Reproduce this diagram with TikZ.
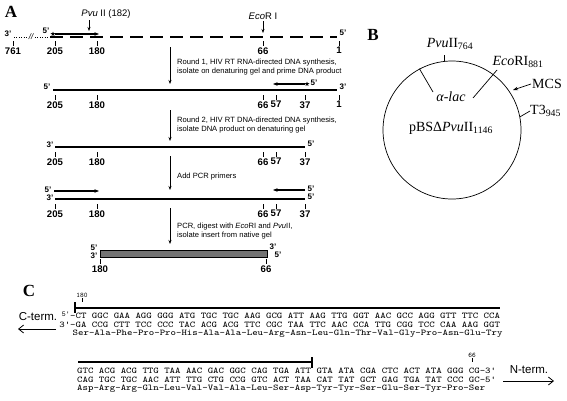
\documentclass[tikz,border=0pt]{standalone}
\usepackage{fontspec}
\setmainfont{Liberation Serif}
\setsansfont{Liberation Sans}
\usetikzlibrary{arrows.meta,shapes.geometric}
\begin{document}
\begin{tikzpicture}[x=1pt,y=-1pt,
  lab/.style={font=\sffamily\bfseries\fontsize{9.6}{10}\selectfont, inner sep=0pt},
  enz/.style={font=\sffamily\fontsize{9.5}{10}\selectfont, inner sep=0pt},
  prime/.style={font=\sffamily\bfseries\fontsize{8}{9}\selectfont, inner sep=0pt},
  steptxt/.style={font=\sffamily\fontsize{7.6}{8.2}\selectfont, align=left, anchor=west, inner sep=0pt},
  strand/.style={line width=1.6pt},
  tickm/.style={line width=0.7pt},
  dotline/.style={line width=1pt, dash pattern=on 1pt off 1.4pt},
  flow/.style={line width=0.7pt, -{Stealth[length=4pt,width=3pt]}},
  primer/.style={line width=1.3pt, -{Stealth[length=4.5pt,width=3.5pt]}},
  starm/.style={star, star points=5, star point ratio=2.4, fill, inner sep=0pt, minimum size=5pt},
  seq/.style={font=\ttfamily\fontsize{8.8}{9}\selectfont, anchor=west, inner sep=0pt, transform shape, xscale=1.1775},
  smallmono/.style={font=\ttfamily\fontsize{7}{7}\selectfont, inner sep=0pt},
  panel/.style={font=\bfseries\fontsize{17}{17}\selectfont, inner sep=0pt},
  bfont/.style={font=\fontsize{14}{15}\selectfont, inner sep=0pt},
  term/.style={font=\sffamily\fontsize{11.5}{12}\selectfont, inner sep=0pt},
  termarrow/.style={line width=0.8pt, -{Straight Barb[length=5pt,width=8pt]}},
  bracket/.style={line width=1.5pt}
]
\fill[white] (0,0) rectangle (567,400);
\useasboundingbox (0,0) rectangle (567,400);

% ================= Panel A =================
\node[panel] (pA) at (11,12) {A};

% ---- row 1
\node[prime] (r1l) at (8,34) {3'};
\coordinate (d1a) at (14,37); \coordinate (d1b) at (27,37);
\coordinate (d2a) at (35,37); \coordinate (d2b) at (49,37);
\draw[dotline] (d1a) -- (d1b);
\node[prime, font=\sffamily\fontsize{8}{9}\selectfont\itshape] (brk) at (31,37) {//};
\draw[dotline] (d2a) -- (d2b);
\coordinate (r1a) at (50,37); \coordinate (r1b) at (337,37);
\draw[strand, dash pattern=on 13pt off 7pt] (r1a) -- (r1b);
\node[prime] (r1r) at (343,33) {5'};
\node[prime] (p1l) at (46,31) {5'};
\node[starm] (p1s) at (53,34) {};
\coordinate (p1e) at (99,34);
\draw[primer] (p1s) -- (p1e);
\node[enz] (pvu) at (106,14) {\textit{Pvu} II (182)};
\coordinate (pvut) at (89,31);
\draw[flow] (pvut |- pvu.south) ++(0,1.5) coordinate (pvus) (pvus) -- (pvut);
\node[enz] (eco) at (263,16) {\textit{Eco}R I};
\coordinate (ecot) at (263,33);
\draw[flow] (ecot |- eco.south) ++(0,1.5) coordinate (ecos) (ecos) -- (ecot);
\foreach \x/\t in {13/761, 55/205, 97/180, 263/66, 339/1}
  \draw[tickm] (\x,41) coordinate (a1\t) -- ++(0,5) node[lab, below=1pt] (b1\t) {\t};

% flow 1
\coordinate (f1a) at (170,47); \coordinate (f1b) at (170,84);
\draw[flow] (f1a) -- (f1b);
\node[steptxt] (s1) at (177,67) {Round 1, HIV RT RNA-directed DNA synthesis,\\isolate on denaturing gel and prime DNA product};

% ---- row 2
\node[prime] (r2l) at (47,87) {5'};
\coordinate (r2a) at (53,90); \coordinate (r2b) at (337,90);
\draw[strand] (r2a) -- (r2b);
\node[prime] (r2r) at (343,87) {3'};
\node[starm] (p2s) at (307,84) {};
\coordinate (p2e) at (273,84);
\draw[primer] (p2s) -- (p2e);
\node[prime] (p2l) at (314,83) {5'};
\foreach \x/\t in {55/205, 97/180, 263/66, 276/57, 305/37, 339/1}
  \draw[tickm] (\x,95) coordinate (a2\t) -- ++(0,5) node[lab, below=1pt] (b2\t) {\t};

% flow 2
\coordinate (f2a) at (170,110); \coordinate (f2b) at (170,141);
\draw[flow] (f2a) -- (f2b);
\node[steptxt] (s2) at (177,125) {Round 2, HIV RT DNA-directed DNA synthesis,\\isolate DNA product on denaturing gel};

% ---- row 3
\node[prime] (r3l) at (50,145) {3'};
\coordinate (r3a) at (55,147); \coordinate (r3b) at (305,147);
\draw[strand] (r3a) -- (r3b);
\node[prime] (r3r) at (311,144) {5'};
\foreach \x/\t in {55/205, 97/180, 263/66, 276/57, 305/37}
  \draw[tickm] (\x,152) coordinate (a3\t) -- ++(0,5) node[lab, below=1pt] (b3\t) {\t};

% flow 3
\coordinate (f3a) at (170,156); \coordinate (f3b) at (170,190);
\draw[flow] (f3a) -- (f3b);
\node[steptxt] (s3) at (177,177) {Add PCR primers};

% ---- row 4
\node[prime] (p4l) at (48,190) {5'};
\coordinate (p4a) at (54,191); \coordinate (p4b) at (99,191);
\draw[primer] (p4a) -- (p4b);
\node[prime] (r4l) at (50,198) {3'};
\coordinate (r4a) at (55,199); \coordinate (r4b) at (305,199);
\draw[strand] (r4a) -- (r4b);
\coordinate (p4c) at (305,190); \coordinate (p4d) at (273,190);
\draw[primer] (p4c) -- (p4d);
\node[prime] (p4r) at (311,189) {5'};
\node[prime] (r4r) at (311,197) {5'};
\foreach \x/\t in {55/205, 97/180, 263/66, 276/57, 305/37}
  \draw[tickm] (\x,204) coordinate (a4\t) -- ++(0,5) node[lab, below=1pt] (b4\t) {\t};

% flow 4
\coordinate (f4a) at (170,208); \coordinate (f4b) at (170,244);
\draw[flow] (f4a) -- (f4b);
\node[steptxt] (s4) at (177,231) {PCR, digest with \textit{Eco}RI and \textit{Pvu}II,\\isolate insert from native gel};

% ---- row 5 (insert)
\draw[fill=black!55, line width=0.8pt] (100,250) rectangle (267,257);
\node[prime] (i5a) at (94,248) {5'};
\node[prime] (i3a) at (94,256) {3'};
\node[prime] (i3b) at (273,247) {3'};
\node[prime] (i5b) at (278,255) {5'};
\draw[tickm] (100,259) coordinate (a5180) -- ++(0,5) node[lab, below=1pt] (b5180) {180};
\draw[tickm] (266,259) coordinate (a566) -- ++(0,5) node[lab, below=1pt] (b566) {66};

% ================= Panel B =================
\node[panel] (pB) at (373,35) {B};
\node[draw, circle, minimum size=138pt, line width=0.7pt, inner sep=0pt] (plas) at (452,130) {};
\node[bfont] (pvub) at (450,44) {\textit{Pvu}II\textsubscript{764}};
\draw[line width=0.7pt] (plas.96) -- ++(0,-6) coordinate (pvubt);
\node[bfont] (ecob) at (518,62) {\textit{Eco}RI\textsubscript{881}};
\coordinate (ecol) at (497,70); \coordinate (lacr) at (473,98);
\draw[line width=0.7pt] (ecol) -- (lacr);
\coordinate (lacl) at (433,92);
\draw[line width=0.7pt] (plas.118) -- (lacl);
\node[bfont] (lac) at (451,97) {\textit{α-lac}};
\node[bfont] (mcs) at (547,84) {MCS};
\coordinate (mcst) at (513,90);
\draw[line width=0.7pt, -{Stealth[length=5pt,width=3.5pt]}] (mcs.west) ++(-1,0) coordinate (mcsw) (mcsw) -- (mcst);
\node[bfont, anchor=west] (t3) at (530,111) {T3\textsubscript{945}};
\draw[line width=0.7pt] (plas.11) -- (t3.west);
\node[bfont] (pbs) at (451,128) {pBSΔ\textit{Pvu}II\textsubscript{1146}};

% ================= Panel C =================
\node[panel] (pC) at (29,291) {C};
\node[smallmono] (n180) at (82,295) {180};
\draw[tickm] (n180.south) ++(0,1) coordinate (t180a) (t180a) -- ++(0,4) coordinate (t180b);
\coordinate (bk1a) at (75,302); \coordinate (bk1b) at (75,313);
\draw[bracket] (bk1a) -- (bk1b);
\coordinate (bk1c) at (75,308); \coordinate (bk1d) at (500,308);
\draw[bracket] (bk1c) -- (bk1d);

\node[smallmono, font=\ttfamily\fontsize{7.5}{7.5}\selectfont, anchor=east] (q5) at (70,314) {5'};
\node[seq] (l1) at (70,315.5) {-CT GGC GAA AGG GGG ATG TGC TGC AAG GCG ATT AAG TTG GGT AAC GCC AGG GTT TTC CCA};
\node[seq] (l2) at (59.1,324.3) {3'-GA CCG CTT TCC CCC TAC ACG ACG TTC CGC TAA TTC AAC CCA TTG CGG TCC CAA AAG GGT};
\node[seq] (l3) at (72.5,333.4) {Ser-Ala-Phe-Pro-Pro-His-Ala-Ala-Leu-Arg-Asn-Leu-Gln-Thr-Val-Gly-Pro-Asn-Glu-Try};

\node[term] (cterm) at (38,317) {C-term.};
\coordinate (ca) at (56,329); \coordinate (cb) at (18,329);
\draw[termarrow] (ca) -- (cb);

\coordinate (bk2a) at (78,362); \coordinate (bk2b) at (312,362);
\draw[bracket] (bk2a) -- (bk2b);
\coordinate (bk2c) at (312,357); \coordinate (bk2d) at (312,368);
\draw[bracket] (bk2c) -- (bk2d);

\node[smallmono] (n66) at (472,355) {66};
\draw[tickm] (n66.south) ++(0,1) coordinate (t66a) (t66a) -- ++(0,4) coordinate (t66b);
\node[seq] (l4) at (77,371) {GTC ACG ACG TTG TAA AAC GAC GGC CAG TGA ATT GTA ATA CGA CTC ACT ATA GGG CG-3'};
\node[seq] (l5) at (77,379.8) {CAG TGC TGC AAC ATT TTG CTG CCG GTC ACT TAA CAT TAT GCT GAG TGA TAT CCC GC-5'};
\node[seq] (l6) at (77,388.9) {Asp-Arg-Arg-Gln-Leu-Val-Val-Ala-Leu-Ser-Asp-Tyr-Tyr-Ser-Glu-Ser-Tyr-Pro-Ser};

\node[term] (nterm) at (529,370) {N-term.};
\coordinate (na) at (503,381); \coordinate (nb) at (554,381);
\draw[termarrow] (na) -- (nb);
\end{tikzpicture}
\end{document}
